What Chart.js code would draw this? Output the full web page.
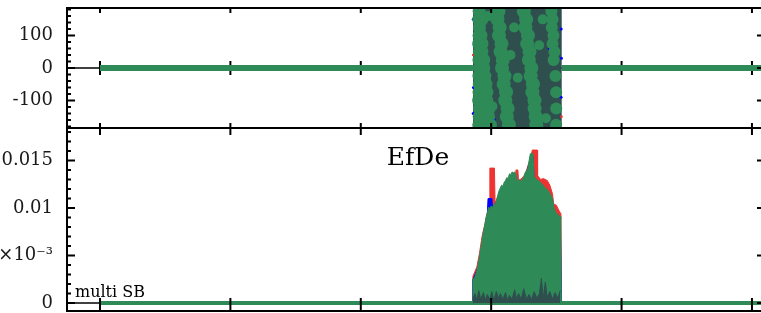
<!DOCTYPE html>
<html>
<head>
<meta charset="utf-8">
<script src="https://cdn.jsdelivr.net/npm/chart.js@4.4.1/dist/chart.umd.min.js"></script>
<style>
  html, body { margin: 0; padding: 0; background: #fff; overflow: hidden; width: 761px; height: 313px; }
  canvas { position: absolute; left: 0; }
  #phaseChart { top: 0; }
  #effChart { top: 118px; }
</style>
</head>
<body>
<canvas id="phaseChart" width="780" height="140"></canvas>
<canvas id="effChart" width="780" height="195"></canvas>
<script>
// x axis (labels are cut off in the picture, only tick marks show)
const xMajor = [0, 100, 200, 300, 400, 500];

// upper pad: phase
const phaseTicks = [-100, 0, 100];
const phaseTickLabels = ['-100', '0', '100'];
const phaseFlatA = [0, 286];
const phaseFlatB = [354.2, 510];
const phaseBlockX = [286, 354.2];
const phaseRows = [175, 150, 125, 100, 75, 50, 25, 0, -25, -50, -75, -100, -125, -150, -175];
const stripeG1a = [290.8, 290.5, 291.0, 290.7, 290.4, 291.0, 290.6, 291.0, 290.6, 290.9, 290.7, 290.4, 291.0, 290.8, 290.5];
const stripeG1b = [null, 292.5, null, 291.8, 292.6, 292.5, 293.9, 294.0, 294.8, 295.6, 296.3, 296.2, 297.9, 297.6, 299.0];
const stripeG2 = [305.6, 304.8, 306.5, 306.0, 307.9, 307.2, 308.9, 308.3, 310.2, 309.6, 311.4, 310.8, 312.6, 312.0, 313.6];
const stripeG3 = [325.0, 326.8, 326.2, 328.2, 327.6, 329.4, 328.9, 330.8, 330.3, 332.0, 331.6, 333.2, 333.3, 334.1, 334.6];
const stripeG4 = [346.2, 347.1, 346.5, 347.8, 347.1, 348.5, 347.9, null, 349.3, null, 349.8, null, 349.9, null, 349.8];
const extraX = [297.8, 301.0, 317.6, 320.4, 339.5, 342.0, 314.8, 336.8];
const extraY = [160, -118, 125, -30, 150, -155, 40, 70];
const blueDotX = [286.3, 286.4, 286.2, 353.7, 353.9, 353.6, 302.5, 322.8, 344.5, 316.5];
const blueDotY = [150, -60, -140, 120, 30, -90, -160, -35, 60, -120];
const redDotX = [286.2, 353.9, 296.5];
const redDotY = [40, -150, -172];

// lower pad: EfDe
const effTicks = [0, 0.005, 0.01, 0.015];
const effTickLabels = ['0', '×10⁻³', '0.01', '0.015'];
const baseX = [0, 510];
const greenX = [285.8, 286, 287, 288, 289, 290, 291, 292, 293, 294, 295, 296, 297, 298, 299, 300, 301, 302, 303, 304, 305, 306, 307, 308, 309, 310, 311, 312, 313, 314, 315, 316, 317, 318, 319, 320, 321, 322, 323, 324, 325, 326, 327, 328, 329, 330, 331, 332, 333, 334, 335, 336, 337, 338, 339, 340, 341, 342, 343, 344, 345, 346, 347, 348, 349, 350, 351, 352, 353, 353.4, 353.8];
const greenVals = [0, 0.0026, 0.0025, 0.0030, 0.0034, 0.0041, 0.0048, 0.0057, 0.0066, 0.0075, 0.0081, 0.0090, 0.0094, 0.0101, 0.0099, 0.0102, 0.0100, 0.0104, 0.0103, 0.0108, 0.0113, 0.0118, 0.0121, 0.0124, 0.0123, 0.0127, 0.0129, 0.0132, 0.0131, 0.0136, 0.0135, 0.0138, 0.0137, 0.0138, 0.0135, 0.0128, 0.0129, 0.0130, 0.0128, 0.0130, 0.0133, 0.0137, 0.0139, 0.0141, 0.0149, 0.0157, 0.0158, 0.0157, 0.0133, 0.0131, 0.0130, 0.0129, 0.0128, 0.0127, 0.0125, 0.0124, 0.0121, 0.0121, 0.0119, 0.0118, 0.0115, 0.0113, 0.0110, 0.0102, 0.0097, 0.0095, 0.0093, 0.0092, 0.0091, 0.0088, 0];
const redX = [285.8, 286, 289, 291, 293, 295, 297.5, 298.5, 299, 302.5, 303, 306, 312, 316, 318.5, 319, 320.5, 321, 326, 329, 331, 331.5, 335.3, 335.6, 338, 340, 343, 345, 347, 348, 350, 351, 352.5, 353.5, 354];
const redVals = [0, 0.0028, 0.0038, 0.0052, 0.0070, 0.0082, 0.0098, 0.0100, 0.0142, 0.0142, 0.0105, 0.0115, 0.0128, 0.0136, 0.0137, 0.0140, 0.0140, 0.0128, 0.0135, 0.0148, 0.0156, 0.0161, 0.0161, 0.0134, 0.0130, 0.0131, 0.0129, 0.0124, 0.0115, 0.0104, 0.0103, 0.0100, 0.0096, 0.0094, 0];
const blueX = [285.7, 285.9, 290, 297, 297.6, 300.6, 301, 310, 318, 320.5, 325, 329.5, 332, 333, 345, 348, 353, 353.9];
const blueVals = [0, 0.0024, 0.0038, 0.0092, 0.0110, 0.0110, 0.0099, 0.0122, 0.0134, 0.0125, 0.0128, 0.0148, 0.0154, 0.0128, 0.0110, 0.0095, 0.0086, 0];
const slateX = [286, 287.5, 289, 290.5, 292, 294, 295.5, 297, 299, 300.5, 302, 304, 305.5, 307, 309, 311, 312.5, 314, 316, 318, 319.5, 321, 323, 325, 327, 329, 331, 333, 335, 337, 338.5, 340, 341.5, 343, 345, 347, 349, 351, 353];
const slateVals = [0.0004, 0.0010, 0.0003, 0.0013, 0.0004, 0.0011, 0.0003, 0.0009, 0.0004, 0.0012, 0.0003, 0.0012, 0.0005, 0.0010, 0.0004, 0.0011, 0.0003, 0.0008, 0.0004, 0.0014, 0.0004, 0.0010, 0.0004, 0.0015, 0.0004, 0.0009, 0.0004, 0.0012, 0.0005, 0.0010, 0.0026, 0.0005, 0.0022, 0.0006, 0.0012, 0.0004, 0.0011, 0.0005, 0.0013];

const GREEN = '#2e8b57';
const SLATE = '#2f4f4f';
const RED = '#ee3333';
const BLUE = '#0000ff';
const LABEL_FONT = { family: 'DejaVu Serif', size: 18 };

function pts(xs, ys) {
  return xs.map((x, i) => ({ x: x, y: ys[i] }));
}
function stripe(xs) {
  return phaseRows.map((y, i) => ({ x: xs[i], y: y })).filter(p => p.x !== null);
}
function flat(xs, y) {
  return xs.map(x => ({ x: x, y: y }));
}
function blobs(data, color, r) {
  return { data: data, showLine: false, pointRadius: r, pointBorderWidth: 0, pointBackgroundColor: color, clip: 0 };
}

// ROOT style frame, tick marks and free texts
const rootFrame = {
  id: 'rootFrame',
  beforeDatasetsDraw(chart, args, o) {
    const { ctx, chartArea: a, scales } = chart;
    const y0 = scales.y.getPixelForValue(0);
    ctx.save();
    ctx.strokeStyle = '#000';
    ctx.lineWidth = 1.5;
    ctx.beginPath();
    ctx.moveTo(a.left, y0);
    ctx.lineTo(a.right, y0);
    ctx.stroke();
    if (o.zeroTick) {
      ctx.lineWidth = 2;
      ctx.beginPath();
      xMajor.forEach(v => {
        const px = scales.x.getPixelForValue(v);
        ctx.moveTo(px, y0 - o.zeroTick);
        ctx.lineTo(px, y0 + o.zeroTick);
      });
      ctx.stroke();
    }
    ctx.restore();
  },
  afterDraw(chart, args, o) {
    const { ctx, chartArea: a, scales: { x, y } } = chart;
    ctx.save();
    ctx.strokeStyle = '#000';
    ctx.lineWidth = 2;
    ctx.strokeRect(a.left, a.top, a.right - a.left, a.bottom - a.top);

    ctx.beginPath();
    const n = Math.round(o.minorTo / o.minorStep);
    for (let k = -n; k <= n; k++) {
      const v = k * o.minorStep;
      const py = y.getPixelForValue(v);
      if (py < a.top || py > a.bottom) continue;
      const r = v / o.majorStep;
      const len = Math.abs(r - Math.round(r)) < 1e-6 ? 8 : 4;
      ctx.moveTo(a.left, py);
      ctx.lineTo(a.left + len, py);
      ctx.moveTo(a.right, py);
      ctx.lineTo(a.right - len, py);
    }
    xMajor.forEach(v => {
      const px = x.getPixelForValue(v);
      ctx.moveTo(px, a.top);
      ctx.lineTo(px, a.top + o.xTickTop);
      ctx.moveTo(px, a.bottom);
      ctx.lineTo(px, a.bottom - o.xTickBottom);
    });
    ctx.stroke();

    ctx.fillStyle = '#000';
    (o.texts || []).forEach(t => {
      ctx.font = t.size + 'px "DejaVu Serif"';
      ctx.textAlign = t.align;
      ctx.fillText(t.text, t.x, t.y);
    });
    ctx.restore();
  }
};

function yScale(min, max, ticks, labels) {
  return {
    type: 'linear',
    min: min,
    max: max,
    grid: { display: false, drawTicks: false },
    border: { display: false },
    ticks: {
      autoSkip: false,
      padding: 14,
      color: '#1a1a1a',
      font: LABEL_FONT,
      callback: (v, i) => labels[i]
    },
    afterBuildTicks: s => { s.ticks = ticks.map(v => ({ value: v })); },
    afterFit: s => { s.width = 67; s.paddingTop = 0; s.paddingBottom = 0; }
  };
}

const xScale = { type: 'linear', min: -25.3, max: 510, display: false };

const common = {
  responsive: false,
  animation: false,
  devicePixelRatio: 1,
  events: [],
  plugins: { legend: { display: false }, tooltip: { enabled: false } }
};

// Phase
new Chart(document.getElementById('phaseChart'), {
  type: 'line',
  data: {
    datasets: [
      blobs(stripe(stripeG1a), GREEN, 6.5),
      blobs(stripe(stripeG1b), GREEN, 7),
      blobs(stripe(stripeG2), GREEN, 7),
      blobs(stripe(stripeG3), GREEN, 7),
      blobs(stripe(stripeG4), GREEN, 6),
      blobs(pts(extraX, extraY), GREEN, 5),
      blobs(pts(blueDotX, blueDotY), BLUE, 1.5),
      blobs(pts(redDotX, redDotY), RED, 1.3),
      { data: flat(phaseBlockX, 185), borderWidth: 0, pointRadius: 0, backgroundColor: SLATE, fill: { value: -185 }, clip: 0 },
      { data: flat(phaseFlatA, 0), borderColor: GREEN, borderWidth: 6, pointRadius: 0, clip: 0 },
      { data: flat(phaseFlatB, 0), borderColor: GREEN, borderWidth: 6, pointRadius: 0, clip: 0 }
    ]
  },
  options: Object.assign({}, common, {
    layout: { padding: { left: 0, right: 15, top: 8, bottom: 12 } },
    scales: { x: xScale, y: yScale(-185, 185, phaseTicks, phaseTickLabels) },
    plugins: Object.assign({}, common.plugins, {
      rootFrame: { minorStep: 20, majorStep: 100, minorTo: 180, xTickTop: 5, xTickBottom: 5, zeroTick: 7 }
    })
  }),
  plugins: [rootFrame]
});

// EfDe
new Chart(document.getElementById('effChart'), {
  type: 'line',
  data: {
    datasets: [
      { data: pts(slateX, slateVals), borderColor: SLATE, borderWidth: 1, backgroundColor: SLATE, fill: 'origin', pointRadius: 0, clip: 0 },
      { data: pts(greenX, greenVals), borderColor: GREEN, borderWidth: 1, backgroundColor: GREEN, fill: 'origin', pointRadius: 0, clip: 0 },
      { data: flat(baseX, 0), borderColor: GREEN, borderWidth: 4, pointRadius: 0, clip: 0 },
      { data: pts(blueX, blueVals), borderColor: BLUE, borderWidth: 1, backgroundColor: BLUE, fill: 'origin', pointRadius: 0, clip: 0 },
      { data: pts(redX, redVals), borderColor: RED, borderWidth: 1, backgroundColor: RED, fill: 'origin', pointRadius: 0, clip: 0 }
    ]
  },
  options: Object.assign({}, common, {
    layout: { padding: { left: 0, right: 15, top: 10, bottom: 2 } },
    scales: { x: xScale, y: yScale(-0.000842, 0.018421, effTicks, effTickLabels) },
    plugins: Object.assign({}, common.plugins, {
      rootFrame: {
        minorStep: 0.001, majorStep: 0.005, minorTo: 0.018, xTickTop: 7, xTickBottom: 13, zeroTick: 0,
        texts: [
          { text: 'EfDe', x: 418, y: 47, size: 25, align: 'center' },
          { text: 'multi SB', x: 75, y: 179, size: 16, align: 'left' }
        ]
      }
    })
  }),
  plugins: [rootFrame]
});
</script>
</body>
</html>
